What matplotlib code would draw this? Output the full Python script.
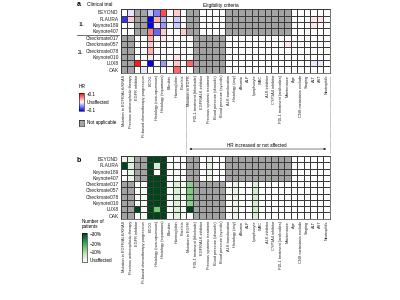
import numpy as np
import matplotlib
matplotlib.use("Agg")
import matplotlib.pyplot as plt
from matplotlib.colors import LinearSegmentedColormap, Normalize
from matplotlib.cm import ScalarMappable

plt.rcParams['font.family'] = ['Liberation Sans', 'DejaVu Sans']

# === data ===
trials = ["BEYOND", "FLAURA", "Keynote189", "Keynote407", "Checkmate017",
          "Checkmate057", "Checkmate078", "Keynote010", "LUX8", "OAK"]

criteria = ["Mutation in EGFR/ALK/KRAS", "Previous antineoplastic therapy",
            "EGFR inhibitor", "Pt-based chemotherapy progression", "ECOG",
            "Histology (non-squamous)", "Histology (squamous)", "Bilirubin",
            "Haemoglobin", "Platelets", "Mutation in EGFR",
            "PDL1 treatment (blockade)", "EGFR/ALK inhibitor",
            "Previous systemic treatment", "Blood pressure (diastolic)",
            "Blood pressure (systolic)", "ALK translocation", "Histology (any)",
            "Albumin", "ALP", "Lymphocyte", "WBC", "ALK inhibitor",
            "CYP3A4 inhibitor", "PDL1 treatment (antibodies)", "Maintenance",
            "Age", "CNS metastasis exclude", "Staging", "ALT", "AST",
            "Neutrophils"]

N = None  # not applicable

# change in HR when the criterion is dropped, one row per trial
hr_beyond = [0, -0.01, N, N, -0.02, -0.05, 0.07, 0, 0.02, 0, N, N, 0, 0, 0, 0,
             N, N, N, N, N, N, N, N, N, N, 0, 0, 0, 0, 0, 0]
hr_flaura = [-0.08, 0.02, N, N, -0.1, 0.03, -0.03, 0, -0.02, 0, N, N, 0, 0, 0, 0,
             N, N, N, N, N, N, N, N, N, N, 0, 0, 0, 0.01, 0.01, 0]
hr_keynote189 = [0, 0, N, N, -0.1, 0.01, -0.04, 0, -0.02, 0, N, N, 0, 0, 0, 0,
                 N, N, N, N, N, N, N, N, N, N, 0, 0, 0, 0.01, 0, 0]
hr_keynote407 = [0, 0, N, N, 0.05, -0.06, 0.02, 0, 0, 0.02, N, N, 0, 0, 0, 0,
                 N, N, N, N, N, N, N, N, N, N, 0, 0, 0, 0, 0, 0]
hr_checkmate017 = [N, N, 0, 0, 0.03, 0, 0.01, 0, 0, 0, 0, N, N, N, N, N,
                   0, 0, 0, 0, 0, 0, 0, 0, 0, 0, 0, 0, 0, 0, 0, 0]
hr_checkmate057 = [N, N, 0, 0, 0.02, 0, 0, 0, 0, 0, 0, N, N, N, N, N,
                   0, 0, 0, 0, 0, 0, 0, 0, 0, 0.01, 0, 0, 0, 0, 0, 0]
hr_checkmate078 = [N, N, 0, 0, 0.03, 0, 0, 0, 0, 0, 0, N, N, N, N, N,
                   0, 0, 0, 0, 0, 0, 0, 0, 0, 0, 0, 0, 0, 0, 0, 0]
hr_keynote010 = [N, N, 0, 0, 0.01, 0, 0, 0, 0.01, 0, 0, N, N, N, N, N,
                 0, 0, 0, 0, 0, 0, 0, 0, 0, 0, 0, 0, 0, 0, 0, 0]
hr_lux8 = [N, N, 0.09, 0, -0.1, 0, -0.04, 0, 0.02, 0, 0.06, N, N, N, N, N,
           0, 0, 0, 0, 0, 0, 0, 0, 0, 0, 0, 0, 0, -0.01, -0.01, 0]
hr_oak = [N, N, 0, -0.01, 0, 0, 0, 0, 0.06, 0, 0, N, N, N, N, N,
          0, 0, 0, 0, 0, 0, 0, 0, 0, 0, 0, 0, 0, 0, 0, 0]

# % of patients excluded by each criterion
pct_beyond = [3, 4, N, N, 40, 40, 40, 0, 1, 0, N, N, 0, 3, 0, 0,
              N, N, N, N, N, N, N, N, N, N, 0, 0, 0, 0, 0, 0]
pct_flaura = [40, 5, N, N, 40, 6, 40, 0, 1, 0, N, N, 0, 3, 0, 0,
              N, N, N, N, N, N, N, N, N, N, 0, 0, 0, 0, 0, 0]
pct_keynote189 = [0, 3, N, N, 40, 0, 40, 0, 1, 0, N, N, 0, 3, 0, 0,
                  N, N, N, N, N, N, N, N, N, N, 0, 0, 0, 0, 0, 0]
pct_keynote407 = [1, 3, N, N, 40, 40, 40, 0, 1, 0, N, N, 0, 3, 0, 0,
                  N, N, N, N, N, N, N, N, N, N, 0, 0, 0, 0, 0, 0]
pct_checkmate017 = [N, N, 1, 1, 40, 40, 40, 1, 5, 1, 13, N, N, N, N, N,
                    0, 3, 0, 0, 5, 0, 0, 0, 0, 0, 0, 0, 0, 0, 0, 0]
pct_checkmate057 = [N, N, 1, 1, 40, 40, 40, 1, 5, 1, 14, N, N, N, N, N,
                    0, 3, 0, 0, 6, 0, 0, 0, 0, 0, 0, 0, 0, 0, 0, 0]
pct_checkmate078 = [N, N, 1, 1, 40, 40, 40, 1, 5, 1, 14, N, N, N, N, N,
                    0, 3, 0, 0, 6, 0, 0, 0, 0, 0, 0, 0, 0, 0, 0, 0]
pct_keynote010 = [N, N, 1, 1, 40, 40, 40, 1, 5, 1, 13, N, N, N, N, N,
                  0, 3, 0, 0, 6, 0, 0, 0, 0, 0, 0, 0, 0, 0, 0, 0]
pct_lux8 = [N, N, 40, 1, 40, 15, 40, 1, 5, 1, 40, N, N, N, N, N,
            0, 3, 0, 0, 7, 0, 0, 0, 0, 0, 0, 0, 0, 0, 1, 0]
pct_oak = [N, N, 1, 1, 40, 40, 40, 1, 4, 1, 0, N, N, N, N, N,
           0, 3, 0, 0, 6, 0, 0, 0, 0, 0, 0, 0, 0, 0, 0, 0]

hr_rows = [hr_beyond, hr_flaura, hr_keynote189, hr_keynote407, hr_checkmate017,
           hr_checkmate057, hr_checkmate078, hr_keynote010, hr_lux8, hr_oak]
pct_rows = [pct_beyond, pct_flaura, pct_keynote189, pct_keynote407,
            pct_checkmate017, pct_checkmate057, pct_checkmate078,
            pct_keynote010, pct_lux8, pct_oak]


def to_masked(rows):
    arr = np.array([[np.nan if v is None else v for v in r] for r in rows], float)
    return np.ma.masked_invalid(arr)


hr = to_masked(hr_rows)
pct = to_masked(pct_rows)

# === styling ===
W, H = 400, 300
GREY = '#a3a3a3'
EDGE = '#3a3a3a'
cmap_hr = plt.get_cmap('bwr').with_extremes(bad=GREY)
cmap_pct = LinearSegmentedColormap.from_list(
    'g', ['#ffffff', '#c7e9c0', '#74c476', '#238b45', '#00441b']).with_extremes(bad=GREY)


def px(x, y):
    return x / W, 1 - y / H


def rect(x0, y0, x1, y1):
    return [x0 / W, 1 - y1 / H, (x1 - x0) / W, (y1 - y0) / H]


fig = plt.figure(figsize=(4, 3), dpi=100)

GX0, GX1 = 120.7, 330.0


def heatmap(ax, data, cmap, vmin, vmax):
    ax.pcolormesh(data, cmap=cmap, vmin=vmin, vmax=vmax,
                  edgecolors=EDGE, linewidth=0.4)
    ax.set_xlim(0, len(criteria))
    ax.set_ylim(len(trials), 0)
    ax.set_yticks(np.arange(len(trials)) + 0.5)
    ax.set_yticklabels(trials, fontsize=3.5, color='#222222')
    ax.set_xticks(np.arange(len(criteria)) + 0.5)
    ax.set_xticklabels(criteria, fontsize=2.8, rotation=90, color='#222222')
    ax.tick_params(length=0, pad=1.5)
    for s in ax.spines.values():
        s.set_linewidth(0.5)
        s.set_color(EDGE)


ax_a = fig.add_axes(rect(GX0, 9.3, GX1, 72.7))
heatmap(ax_a, hr, cmap_hr, -0.1, 0.1)

ax_b = fig.add_axes(rect(GX0, 156, GX1, 218.7))
heatmap(ax_b, pct, cmap_pct, 0, 30)

# === panel a annotations ===
fig.text(*px(77, 5), 'a', fontsize=5, fontweight='bold', va='center')
fig.text(*px(87, 5), 'Clinical trial', fontsize=3.5, va='center')
fig.text(*px(203, 5), 'Eligibility criteria', fontsize=3.5, va='center')
fig.text(*px(79, 25), '1L', fontsize=3.5, va='center')
fig.text(*px(78, 53), '2L', fontsize=3.5, va='center')
fig.add_artist(plt.Line2D([77 / W, 119 / W], [1 - 34.6 / H] * 2,
                          color='#333333', lw=0.5))

fig.text(*px(79, 87), 'HR', fontsize=3.5, va='center')
cax = fig.add_axes(rect(79, 93, 84, 111))
cb = fig.colorbar(ScalarMappable(Normalize(-0.1, 0.1), cmap_hr), cax=cax)
cb.set_ticks([])
cb.outline.set_linewidth(0.4)
fig.text(*px(87, 95), '+0.1', fontsize=3.3, va='center')
fig.text(*px(87, 102), 'Unaffected', fontsize=3.3, va='center')
fig.text(*px(87, 110), '\u22120.1', fontsize=3.3, va='center')
nax = fig.add_axes(rect(79, 120, 84, 126))
nax.set_facecolor(GREY)
nax.set_xticks([])
nax.set_yticks([])
for s in nax.spines.values():
    s.set_linewidth(0.4)
fig.text(*px(87, 123), 'Not applicable', fontsize=3.3, va='center')

# HR increased region marker
for xd in (186, 329.5):
    fig.add_artist(plt.Line2D([xd / W] * 2, [1 - 77 / H, 1 - 153 / H],
                              color='#444444', lw=0.4, ls=(0, (1, 1))))
fig.add_artist(matplotlib.patches.FancyArrowPatch(
    px(186.5, 149), px(329, 149), arrowstyle='<|-|>', mutation_scale=3,
    lw=0.4, color='#222222', transform=fig.transFigure))
fig.text(*px(257, 145), 'HR increased or not affected', fontsize=3.3,
         ha='center', va='center')

# === panel b annotations ===
fig.text(*px(77, 160), 'b', fontsize=5, fontweight='bold', va='center')
fig.text(*px(82, 224), 'Number of\npatients', fontsize=3.3, va='center',
         linespacing=1.0)
gax = fig.add_axes(rect(82, 233, 87, 262))
gb = fig.colorbar(ScalarMappable(Normalize(0, 30), cmap_pct), cax=gax)
gb.set_ticks([])
gb.outline.set_linewidth(0.4)
fig.text(*px(90, 235), '\u221230%', fontsize=3.3, va='center')
fig.text(*px(90, 244), '\u221220%', fontsize=3.3, va='center')
fig.text(*px(90, 253), '\u221210%', fontsize=3.3, va='center')
fig.text(*px(90, 261), 'Unaffected', fontsize=3.3, va='center')

fig.savefig('out.png', dpi=100, facecolor='white')
